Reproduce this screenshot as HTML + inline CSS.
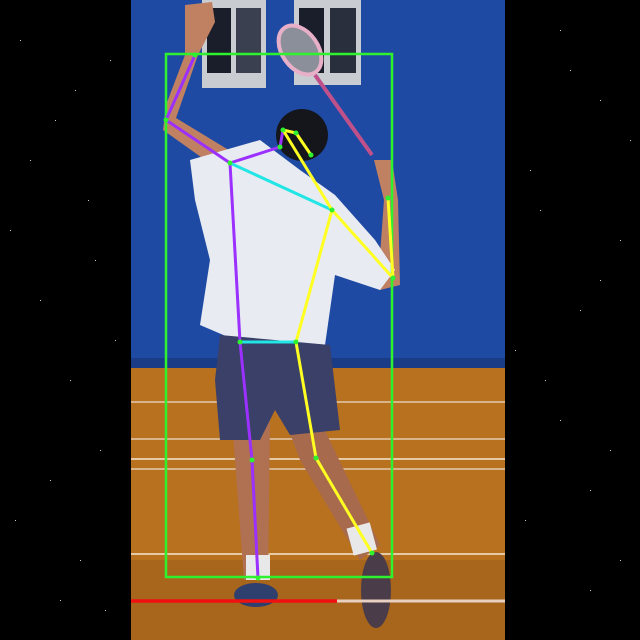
<!DOCTYPE html>
<html><head><meta charset="utf-8"><style>
html,body{margin:0;padding:0;background:#000;width:640px;height:640px;overflow:hidden}
svg{display:block}
</style></head><body>
<svg id="scene" width="640" height="640" viewBox="0 0 640 640">
<rect x="0" y="0" width="640" height="640" fill="#000"/>
<g id="stars"></g>
<g>
  <rect x="131" y="0" width="374" height="370" fill="#1f4aa3"/>
  <rect x="131" y="358" width="374" height="12" fill="#1a3c86"/>
  <rect x="131" y="368" width="374" height="272" fill="#b8711f"/>
  <rect x="131" y="560" width="374" height="80" fill="#a8651c"/>
  <g stroke="#d9b48a" stroke-width="2">
    <line x1="131" y1="402" x2="505" y2="402"/>
    <line x1="131" y1="439" x2="505" y2="439"/>
    <line x1="131" y1="459" x2="505" y2="459" stroke="#e6c9a5"/>
    <line x1="131" y1="469" x2="505" y2="469"/>
    <line x1="131" y1="554" x2="505" y2="554" stroke="#e6c9a5"/>
  </g>
  <g>
    <rect x="202" y="0" width="64" height="88" fill="#c9ccd1"/>
    <rect x="207" y="8" width="24" height="65" fill="#1a1d2a"/>
    <rect x="236" y="8" width="25" height="65" fill="#3a4050"/>
  </g>
  <g>
    <rect x="294" y="0" width="67" height="85" fill="#c9ccd1"/>
    <rect x="299" y="8" width="25" height="65" fill="#1a1d2a"/>
    <rect x="330" y="8" width="26" height="65" fill="#2a2f3e"/>
  </g>
  <g>
    <ellipse cx="300" cy="50" rx="18" ry="27" transform="rotate(-35 300 50)" fill="#8a8f99" stroke="#e8b0c8" stroke-width="4"/>
    <line x1="315" y1="75" x2="372" y2="155" stroke="#c0508a" stroke-width="4"/>
  </g>
  <g>
    <polygon points="185,5 212,2 215,22 198,55 176,118 232,152 222,172 163,130 166,105 185,55" fill="#c08062"/>
    <polygon points="330,205 380,255 384,200 374,160 392,160 398,200 400,285 380,290 325,240" fill="#c08062"/>
    <polygon points="232,420 270,420 268,580 244,580" fill="#b07052"/>
    <polygon points="285,420 320,420 380,545 360,560 300,460" fill="#a86a4c"/>
    <polygon points="190,160 260,140 300,170 335,195 375,240 395,270 380,290 335,275 325,345 235,340 200,325 210,260 195,200" fill="#e8ecf2"/>
    <polygon points="220,335 330,345 340,430 290,435 275,410 260,440 220,440 215,380" fill="#3a4068"/>
    <circle cx="302" cy="135" r="26" fill="#14161c"/>
    <rect x="246" y="555" width="24" height="25" fill="#e8e8e8"/>
    <rect x="350" y="525" width="24" height="28" fill="#e8e8e8" transform="rotate(-15 362 540)"/>
    <ellipse cx="256" cy="595" rx="22" ry="12" fill="#2f3f6e"/>
    <ellipse cx="376" cy="590" rx="15" ry="38" fill="#4a3c48"/>
  </g>
</g>
<rect x="166" y="54" width="226" height="523" fill="none" stroke="#2ef22e" stroke-width="2.5"/>
<line x1="337" y1="601" x2="505" y2="601" stroke="#e8d0c0" stroke-width="3"/>
<line x1="131" y1="601" x2="337" y2="601" stroke="#f01010" stroke-width="3.5"/>
<g id="skeleton"></g>
</svg>
<script>
const keypointNames = ["lwrist","lelbow","lshoulder","lhip","lknee","lankle","neck","nose","ear","eye","rshoulder","relbow","rwrist","rhip","rknee","rankle"];
const keypointX = [195,166,230,240,252,258,280,283,296,311,332,393,388,296,316,372];
const keypointY = [55,120,163,342,460,578,147,130,133,155,210,278,198,342,458,553];
const limbs = [[0,1,"#9b30ff"],[1,2,"#9b30ff"],[2,3,"#9b30ff"],[3,4,"#9b30ff"],[4,5,"#9b30ff"],[2,6,"#9b30ff"],[6,7,"#9b30ff"],
  [2,10,"#22e5e5"],[3,13,"#22e5e5"],
  [10,11,"#ffff22"],[11,12,"#ffff22"],[7,10,"#ffff22"],[10,13,"#ffff22"],[13,14,"#ffff22"],[14,15,"#ffff22"],[7,8,"#ffff22"],[8,9,"#ffff22"]];
const NS="http://www.w3.org/2000/svg";
const sk=document.getElementById('skeleton');
limbs.forEach(l=>{
  const ln=document.createElementNS(NS,'line');
  ln.setAttribute('x1',keypointX[l[0]]);ln.setAttribute('y1',keypointY[l[0]]);
  ln.setAttribute('x2',keypointX[l[1]]);ln.setAttribute('y2',keypointY[l[1]]);
  ln.setAttribute('stroke',l[2]);ln.setAttribute('stroke-width','3');
  
  
  sk.appendChild(ln);
});
keypointX.forEach((x,i)=>{
  const c=document.createElementNS(NS,'circle');
  c.setAttribute('cx',x);c.setAttribute('cy',keypointY[i]);c.setAttribute('r','2.5');c.setAttribute('fill','#2ef22e');
  
  
  sk.appendChild(c);
});
const st=document.getElementById('stars');
const starX=[20,55,88,110,40,70,100,15,60,95,30,80,115,50,10,75,105,560,600,530,620,580,545,610,525,590,570,630,540,600,515,560,590,620];
const starY=[40,120,200,60,300,380,450,520,600,260,160,560,340,480,230,90,610,30,100,170,240,310,380,450,520,590,70,140,210,280,350,420,490,560];
starX.forEach((x,i)=>{
  const s=document.createElementNS(NS,'rect');
  s.setAttribute('x',x);s.setAttribute('y',starY[i]);s.setAttribute('width','1');s.setAttribute('height','1');s.setAttribute('fill','#ccc');
  
  
  st.appendChild(s);
});
</script>
</body></html>
